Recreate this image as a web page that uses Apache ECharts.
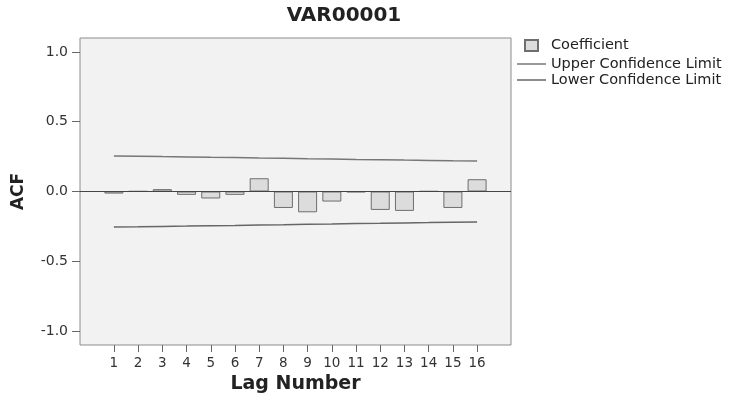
<!DOCTYPE html>
<html>
<head>
<meta charset="utf-8">
<script src="https://cdn.jsdelivr.net/npm/echarts@6/dist/echarts.min.js"></script>
<style>
  html, body { margin: 0; padding: 0; background: #fff; }
  #chart { width: 731px; height: 399px; }
</style>
</head>
<body>
<div id="chart"></div>
<script>
// ACF values
const lags = [1, 2, 3, 4, 5, 6, 7, 8, 9, 10, 11, 12, 13, 14, 15, 16];
const coefficient = [-0.015, 0.002, 0.017, -0.024, -0.05, -0.024, 0.095, -0.118, -0.149, -0.072, -0.005, -0.132, -0.139, 0.002, -0.118, 0.088];
const upperLimit = [0.255, 0.253, 0.25, 0.248, 0.245, 0.243, 0.24, 0.238, 0.235, 0.233, 0.23, 0.228, 0.225, 0.223, 0.22, 0.218];
const lowerLimit = [-0.255, -0.253, -0.25, -0.248, -0.245, -0.243, -0.24, -0.238, -0.235, -0.233, -0.23, -0.228, -0.225, -0.223, -0.22, -0.218];
const yTicks = [-1, -0.5, 0, 0.5, 1];

const font = 'DejaVu Sans, sans-serif';
const chart = echarts.init(document.getElementById('chart'));

const pairs = (ys) => lags.map((l, i) => [l, ys[i]]);

const option = {
  backgroundColor: '#fff',
  animation: false,
  textStyle: { fontFamily: font },
  title: {
    text: 'VAR00001',
    left: 339,
    top: 1,
    textAlign: 'center',
    textStyle: { fontSize: 20, fontWeight: 'bold', color: '#222', fontFamily: font },
  },
  legend: [
    {
      data: [{ name: 'Coefficient', icon: 'rect' }],
      left: 519,
      top: 33,
      orient: 'vertical',
      itemWidth: 13,
      itemHeight: 11,
      selectedMode: false,
      textStyle: { fontSize: 14.5, color: '#222', fontFamily: font, padding: [0, 0, 0, 8] },
    },
    {
      data: [
        { name: 'Upper Confidence Limit', icon: 'rect' },
        { name: 'Lower Confidence Limit', icon: 'rect' },
      ],
      left: 512,
      top: 51.5,
      orient: 'vertical',
      itemGap: 1,
      itemWidth: 29,
      itemHeight: 1.5,
      selectedMode: false,
      textStyle: { fontSize: 14.5, color: '#222', fontFamily: font },
    },
  ],
  grid: {
    left: 80,
    top: 38,
    right: 220,
    bottom: 54,
    show: true,
    backgroundColor: '#f2f2f2',
    borderColor: '#8c8c8c',
    borderWidth: 1,
  },
  xAxis: {
    type: 'value',
    min: -0.4,
    max: 17.4,
    name: 'Lag Number',
    nameLocation: 'middle',
    nameGap: 29,
    nameTextStyle: { fontSize: 19, fontWeight: 'bold', color: '#222', fontFamily: font },
    axisLine: { show: false, onZero: false },
    axisTick: { show: true, customValues: lags, length: 7, lineStyle: { color: '#666' } },
    axisLabel: { customValues: lags, fontSize: 13.5, color: '#333', margin: 11 },
    splitLine: { show: false },
  },
  yAxis: {
    type: 'value',
    min: -1.1,
    max: 1.1,
    name: 'ACF',
    nameLocation: 'middle',
    nameGap: 53,
    nameTextStyle: { fontSize: 17, fontWeight: 'bold', color: '#222', fontFamily: font },
    axisLine: { show: false, onZero: false },
    axisTick: { show: true, customValues: yTicks, length: 8, lineStyle: { color: '#666' } },
    axisLabel: {
      customValues: yTicks,
      fontSize: 14,
      color: '#333',
      margin: 12,
      formatter: (v) => v.toFixed(1),
    },
    splitLine: { show: false },
  },
  series: [
    {
      name: 'Coefficient',
      type: 'bar',
      barWidth: 19,
      data: pairs(coefficient),
      itemStyle: { color: '#dcdcdc', borderColor: '#6e6e6e', borderWidth: 1 },
      markLine: {
        silent: true,
        symbol: 'none',
        label: { show: false },
        lineStyle: { color: '#444', width: 1, type: 'solid' },
        data: [{ yAxis: 0 }],
      },
    },
    {
      name: 'Upper Confidence Limit',
      type: 'line',
      data: pairs(upperLimit),
      symbol: 'none',
      lineStyle: { color: '#777', width: 1.5 },
      itemStyle: { color: '#777' },
    },
    {
      name: 'Lower Confidence Limit',
      type: 'line',
      data: pairs(lowerLimit),
      symbol: 'none',
      lineStyle: { color: '#666', width: 1.5 },
      itemStyle: { color: '#666' },
    },
  ],
};

chart.setOption(option);
</script>
</body>
</html>
